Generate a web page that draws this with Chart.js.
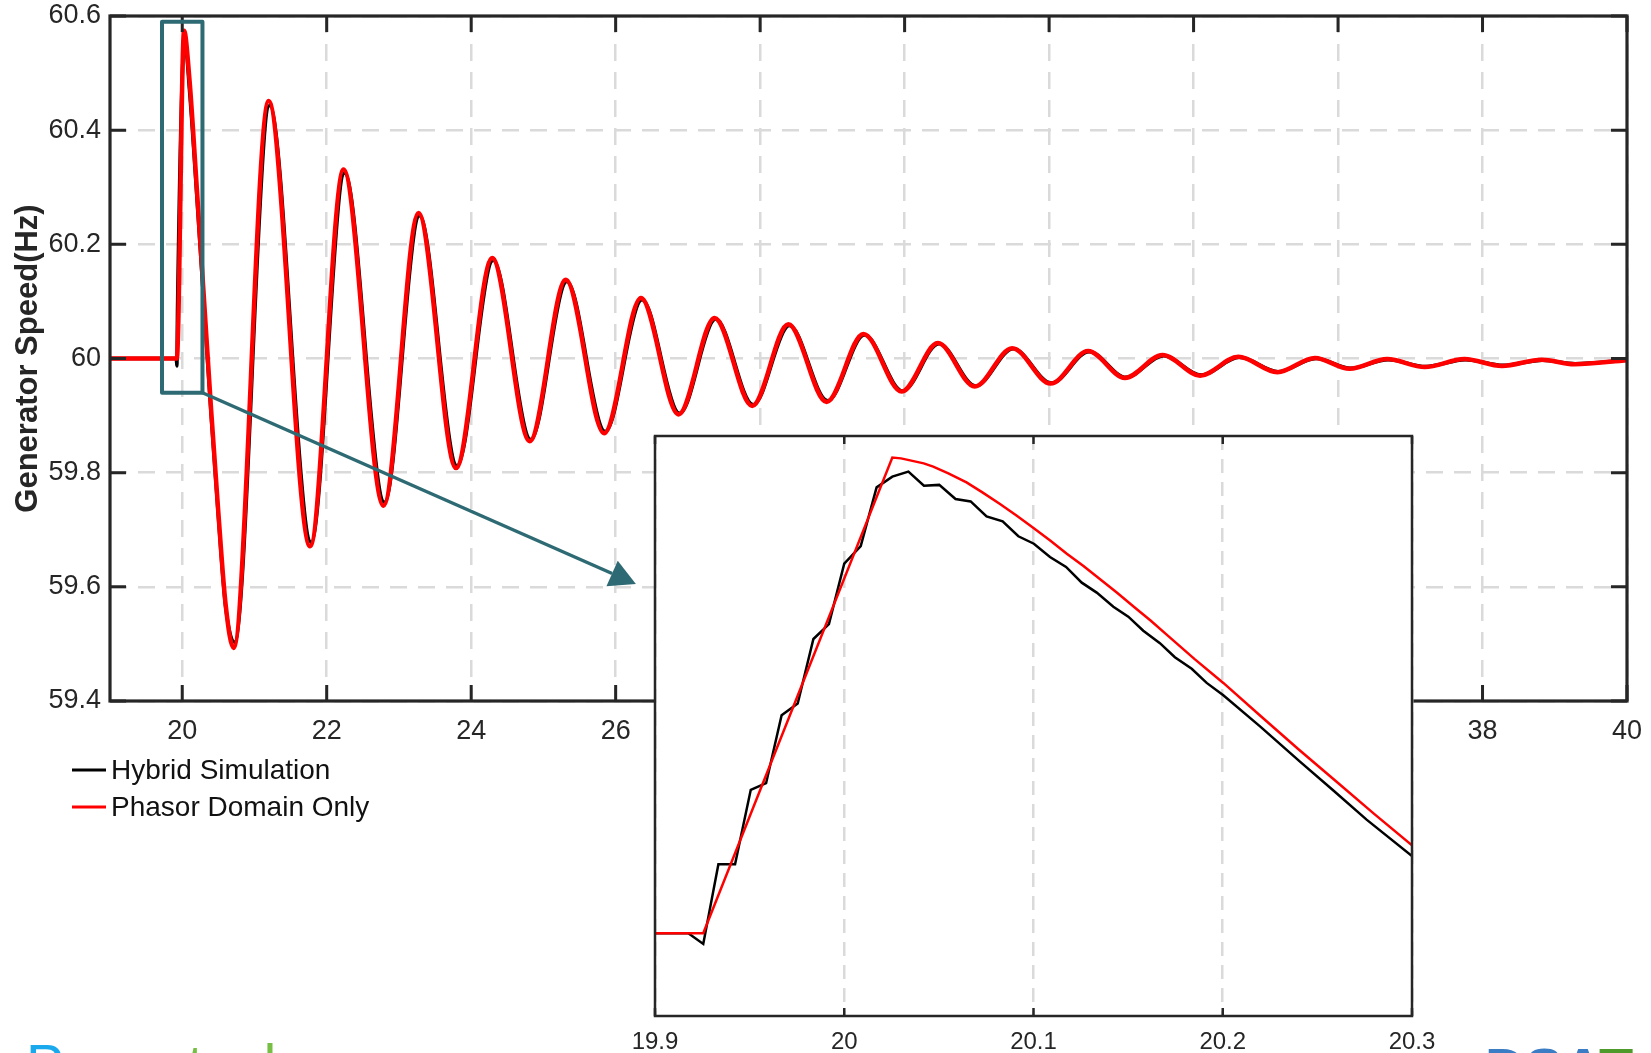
<!DOCTYPE html>
<html><head><meta charset="utf-8">
<script src="https://cdn.jsdelivr.net/npm/chart.js@4.4.1/dist/chart.umd.min.js"></script>
<style>
html,body{margin:0;padding:0;background:#fff;overflow:hidden;width:1651px;height:1053px;}
#wrap{position:relative;width:1651px;height:1053px;overflow:hidden;}
#main{position:absolute;left:0;top:0;}
#inset{position:absolute;left:600px;top:400px;}
.logo{position:absolute;font-family:"Liberation Sans",Arial,sans-serif;white-space:nowrap;}
</style></head><body>
<div id="wrap">
<canvas id="main" width="1651" height="1053"></canvas>
<canvas id="inset" width="1051" height="653"></canvas>
<div class="logo" style="left:26px;top:1037px;font-size:57px;line-height:57px;"><span style="color:#1aa9ec">Power</span><span style="color:#77bf44">tech</span></div>
<div class="logo" style="left:1485px;top:1040px;font-size:56px;line-height:56px;font-weight:bold;"><span style="color:#3b7dc4">DSA</span><span style="color:#4e9a2b">T</span></div>
</div>
<script>
const FONT = '"Liberation Sans", Arial, sans-serif';
const AXIS = '#262626';
const GRID = '#dadada';
const TEAL = '#2e6a73';

const seriesNames = ['Hybrid Simulation', 'Phasor Domain Only'];
const seriesColors = ['#000000', '#ff0000'];
const yTitle = 'Generator Speed(Hz)';

const xTicksMain = [20, 22, 24, 26, 28, 30, 32, 34, 36, 38, 40];
const xTickLabelsMain = ['20', '22', '24', '26', '28', '30', '32', '34', '36', '38', '40'];
const yTicksMain = [59.4, 59.6, 59.8, 60, 60.2, 60.4, 60.6];
const yTickLabelsMain = ['59.4', '59.6', '59.8', '60', '60.2', '60.4', '60.6'];
const xTicksInset = [19.9, 20, 20.1, 20.2, 20.3];
const xTickLabelsInset = ['19.9', '20', '20.1', '20.2', '20.3'];

// [time (s), speed (Hz)]
const hybridMain = [
  [19, 60], [19.918, 60], [19.926, 59.987], [19.934, 60.083], [20.034, 60.557],
  [20.1, 60.47], [20.2, 60.287], [20.3, 60.093], [20.4, 59.9], [20.5, 59.722], [20.6, 59.565],
  [20.725, 59.503], [21.21, 60.443], [21.785, 59.678], [22.248, 60.325], [22.80, 59.748],
  [23.285, 60.25], [23.805, 59.812], [24.305, 60.172], [24.825, 59.858], [25.325, 60.135],
  [25.855, 59.872], [26.365, 60.103], [26.885, 59.904], [27.385, 60.069], [27.905, 59.919],
  [28.405, 60.058], [28.935, 59.926], [29.445, 60.041], [29.975, 59.943], [30.475, 60.026],
  [30.985, 59.952], [31.505, 60.017], [32.035, 59.957], [32.555, 60.012], [33.065, 59.967],
  [33.585, 60.005], [34.105, 59.971], [34.635, 60.002], [35.175, 59.977], [35.695, 60.0],
  [36.175, 59.983], [36.695, 59.998], [37.215, 59.986], [37.765, 59.998], [38.285, 59.988],
  [38.835, 59.997], [39.285, 59.991], [40, 59.997]
];
const phasorMain = [
  [19, 60], [19.925, 60], [20.025, 60.574], [20.1, 60.489], [20.2, 60.302], [20.3, 60.106],
  [20.4, 59.91], [20.5, 59.73], [20.6, 59.57], [20.71, 59.493], [21.195, 60.451], [21.77, 59.671],
  [22.233, 60.331], [22.786, 59.742], [23.27, 60.255], [23.79, 59.808], [24.29, 60.176],
  [24.81, 59.855], [25.31, 60.138], [25.84, 59.869], [26.35, 60.106], [26.87, 59.902],
  [27.37, 60.071], [27.89, 59.917], [28.39, 60.060], [28.92, 59.924], [29.43, 60.043],
  [29.96, 59.942], [30.46, 60.027], [30.97, 59.951], [31.49, 60.018], [32.02, 59.956],
  [32.54, 60.013], [33.05, 59.966], [33.57, 60.006], [34.09, 59.970], [34.62, 60.003],
  [35.16, 59.976], [35.68, 60.001], [36.16, 59.982], [36.68, 59.999], [37.20, 59.985],
  [37.75, 59.999], [38.27, 59.987], [38.82, 59.998], [39.27, 59.990], [40, 59.997]
];
const hybridInset = [
  [19.9, 60], [19.9176, 60], [19.9255, 59.987], [19.9335, 60.083], [19.9423, 60.083],
  [19.9506, 60.173], [19.9587, 60.181], [19.9669, 60.263], [19.9754, 60.277], [19.9837, 60.355],
  [19.9919, 60.373], [20.0, 60.446], [20.0087, 60.467], [20.0171, 60.538], [20.0254, 60.551],
  [20.0339, 60.557], [20.0421, 60.540], [20.0502, 60.541], [20.0588, 60.524], [20.0668, 60.521],
  [20.0752, 60.503], [20.0837, 60.497], [20.092, 60.479], [20.1002, 60.470], [20.1087, 60.454],
  [20.1172, 60.442], [20.1255, 60.423], [20.1334, 60.411], [20.1422, 60.394], [20.1501, 60.382],
  [20.158, 60.365], [20.1668, 60.350], [20.1747, 60.333], [20.1836, 60.319], [20.1915, 60.302],
  [20.2003, 60.287], [20.22, 60.249], [20.2408, 60.207], [20.258, 60.173], [20.276, 60.137],
  [20.3, 60.093]
];
const phasorInset = [
  [19.9, 60], [19.9255, 60], [20.0254, 60.574], [20.03, 60.573], [20.036, 60.570],
  [20.042, 60.567], [20.047, 60.563], [20.055, 60.555], [20.0646, 60.544], [20.073, 60.532],
  [20.0823, 60.518], [20.091, 60.504], [20.1, 60.489], [20.1088, 60.474], [20.1176, 60.458],
  [20.1264, 60.443], [20.1352, 60.427], [20.144, 60.411], [20.153, 60.394], [20.162, 60.377],
  [20.1705, 60.360], [20.185, 60.331], [20.2003, 60.302], [20.22, 60.262], [20.24, 60.222],
  [20.26, 60.183], [20.28, 60.144], [20.3, 60.106]
];

const zoomBox = {x0: 19.72, x1: 20.28, y0: 59.94, y1: 60.59};
const arrowTip = {x: 26.28, y: 59.605};

const toXY = arr => arr.map(([x, y]) => ({x, y}));

const mainDecor = {
  id: 'mainDecor',
  afterDatasetsDraw(chart) {
    const {ctx, chartArea: a, scales: {x, y}} = chart;
    ctx.save();
    ctx.strokeStyle = AXIS;
    ctx.lineWidth = 3;
    ctx.beginPath();
    xTicksMain.forEach(v => {
      const px = x.getPixelForValue(v);
      ctx.moveTo(px, a.bottom); ctx.lineTo(px, a.bottom - 16);
      ctx.moveTo(px, a.top); ctx.lineTo(px, a.top + 16);
    });
    yTicksMain.forEach(v => {
      const py = y.getPixelForValue(v);
      ctx.moveTo(a.left, py); ctx.lineTo(a.left + 16, py);
      ctx.moveTo(a.right, py); ctx.lineTo(a.right - 16, py);
    });
    ctx.stroke();
    ctx.lineWidth = 3.2;
    ctx.strokeRect(a.left, a.top, a.right - a.left, a.bottom - a.top);

    // zoom box + arrow
    const bx0 = x.getPixelForValue(zoomBox.x0), bx1 = x.getPixelForValue(zoomBox.x1);
    const by0 = y.getPixelForValue(zoomBox.y1), by1 = y.getPixelForValue(zoomBox.y0);
    ctx.strokeStyle = TEAL;
    ctx.lineWidth = 4;
    ctx.lineJoin = 'round';
    ctx.strokeRect(bx0, by0, bx1 - bx0, by1 - by0);
    const tx = x.getPixelForValue(arrowTip.x), ty = y.getPixelForValue(arrowTip.y);
    const dx = tx - bx1, dy = ty - by1, len = Math.hypot(dx, dy);
    const ux = dx / len, uy = dy / len;
    const headL = 26, headW = 14;
    const baseX = tx - ux * headL, baseY = ty - uy * headL;
    ctx.lineWidth = 3.5;
    ctx.beginPath();
    ctx.moveTo(bx1, by1);
    ctx.lineTo(baseX, baseY);
    ctx.stroke();
    ctx.fillStyle = TEAL;
    ctx.beginPath();
    ctx.moveTo(tx, ty);
    ctx.lineTo(baseX - uy * headW, baseY + ux * headW);
    ctx.lineTo(baseX + uy * headW, baseY - ux * headW);
    ctx.closePath();
    ctx.fill();
    ctx.restore();
  },
  afterDraw(chart) {
    const {ctx, chartArea: a} = chart;
    ctx.save();
    ctx.font = '28px ' + FONT;
    ctx.textBaseline = 'middle';
    ctx.textAlign = 'left';
    chart.data.datasets.forEach((ds, i) => {
      const yy = a.bottom + 69 + i * 37;
      ctx.strokeStyle = ds.borderColor;
      ctx.lineWidth = 3;
      ctx.beginPath();
      ctx.moveTo(a.left - 38, yy);
      ctx.lineTo(a.left - 4, yy);
      ctx.stroke();
      ctx.fillStyle = '#111';
      ctx.fillText(ds.label, a.left + 1, yy + 1);
    });
    ctx.restore();
  }
};

new Chart(document.getElementById('main'), {
  type: 'line',
  data: {
    datasets: [
      {label: seriesNames[0], data: toXY(hybridMain), borderColor: seriesColors[0], borderWidth: 3.5,
       pointRadius: 0, cubicInterpolationMode: 'monotone', order: 2},
      {label: seriesNames[1], data: toXY(phasorMain), borderColor: seriesColors[1], borderWidth: 4.5,
       pointRadius: 0, cubicInterpolationMode: 'monotone', order: 1}
    ]
  },
  options: {
    responsive: false, animation: false, devicePixelRatio: 1,
    layout: {padding: {left: 0, top: 16, right: 24, bottom: 0}},
    plugins: {legend: {display: false}, tooltip: {enabled: false}},
    scales: {
      x: {
        type: 'linear', min: 19, max: 40,
        afterBuildTicks: s => { s.ticks = xTicksMain.map(v => ({value: v})); },
        afterFit: s => { s.height = 352; s.paddingLeft = 0; s.paddingRight = 0; },
        ticks: {callback: (v, i) => xTickLabelsMain[i], font: {family: FONT, size: 27}, color: AXIS,
                padding: 14, maxRotation: 0, autoSkip: false},
        grid: {color: GRID, lineWidth: 2.5, drawTicks: false},
        border: {display: false, dash: [17, 11]}
      },
      y: {
        type: 'linear', min: 59.4, max: 60.6,
        afterBuildTicks: s => { s.ticks = yTicksMain.map(v => ({value: v})); },
        afterFit: s => { s.width = 110; s.paddingTop = 0; s.paddingBottom = 0; },
        ticks: {callback: (v, i) => yTickLabelsMain[i], font: {family: FONT, size: 27}, color: AXIS,
                padding: 9, autoSkip: false},
        grid: {color: GRID, lineWidth: 2.5, drawTicks: false},
        border: {display: false, dash: [17, 11]},
        title: {display: true, text: yTitle, font: {family: FONT, size: 31, weight: 'bold'},
                color: AXIS, padding: {top: 10, bottom: 0}}
      }
    }
  },
  plugins: [mainDecor]
});

const insetDecor = {
  id: 'insetDecor',
  beforeDraw(chart) {
    const {ctx, chartArea: a} = chart;
    ctx.save();
    ctx.fillStyle = '#ffffff';
    ctx.fillRect(a.left, a.top, a.right - a.left, a.bottom - a.top);
    ctx.restore();
  },
  afterDatasetsDraw(chart) {
    const {ctx, chartArea: a, scales: {x}} = chart;
    ctx.save();
    ctx.strokeStyle = AXIS;
    ctx.lineWidth = 2.5;
    ctx.beginPath();
    xTicksInset.forEach(v => {
      const px = x.getPixelForValue(v);
      ctx.moveTo(px, a.bottom); ctx.lineTo(px, a.bottom - 8);
      ctx.moveTo(px, a.top); ctx.lineTo(px, a.top + 8);
    });
    ctx.stroke();
    ctx.strokeRect(a.left, a.top, a.right - a.left, a.bottom - a.top);
    ctx.restore();
  }
};

new Chart(document.getElementById('inset'), {
  type: 'line',
  data: {
    datasets: [
      {label: seriesNames[0], data: toXY(hybridInset), borderColor: seriesColors[0], borderWidth: 2.5,
       pointRadius: 0, tension: 0, order: 2},
      {label: seriesNames[1], data: toXY(phasorInset), borderColor: seriesColors[1], borderWidth: 2.5,
       pointRadius: 0, tension: 0, order: 1}
    ]
  },
  options: {
    responsive: false, animation: false, devicePixelRatio: 1,
    layout: {padding: {left: 55, top: 36, right: 239, bottom: 0}},
    plugins: {legend: {display: false}, tooltip: {enabled: false}},
    scales: {
      x: {
        type: 'linear', min: 19.9, max: 20.3,
        afterBuildTicks: s => { s.ticks = xTicksInset.map(v => ({value: v})); },
        afterFit: s => { s.height = 37; },
        ticks: {callback: (v, i) => xTickLabelsInset[i], font: {family: FONT, size: 24}, color: AXIS,
                padding: 12, maxRotation: 0, autoSkip: false},
        grid: {color: GRID, lineWidth: 2.5, drawTicks: false},
        border: {display: false, dash: [14, 9]}
      },
      y: {type: 'linear', min: 59.9, max: 60.6, display: false}
    }
  },
  plugins: [insetDecor]
});
</script>
</body></html>
